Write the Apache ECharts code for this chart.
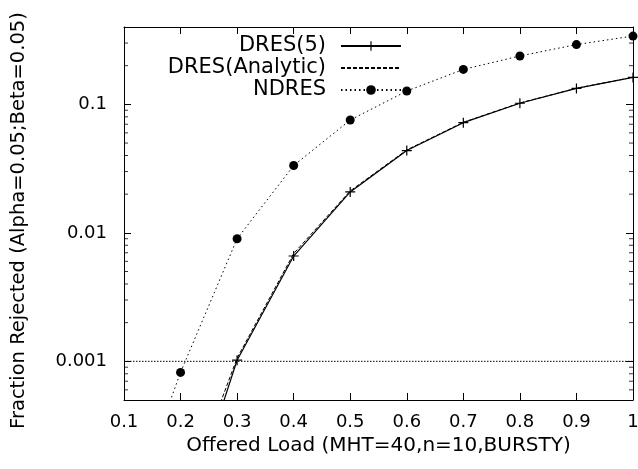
<!DOCTYPE html>
<html>
<head>
<meta charset="utf-8">
<script src="https://cdn.jsdelivr.net/npm/echarts@6/dist/echarts.min.js"></script>
<style>html,body{margin:0;padding:0;background:#fff}#c{width:638px;height:469px}</style>
</head>
<body>
<div id="c"></div>
<script>
// ---- data ----
const loads = [0.1, 0.2, 0.3, 0.4, 0.5, 0.6, 0.7, 0.8, 0.9, 1.0];
const dres5 = [null, 0.000046, 0.00102, 0.0066, 0.0208, 0.0437, 0.072, 0.102, 0.133, 0.162];
const dresAnalytic = [null, 0.00007, 0.00106, 0.0069, 0.0212, 0.0442, 0.0725, 0.1025, 0.1335, 0.1625];
const ndres = [0.00005, 0.00082, 0.0090, 0.0334, 0.0755, 0.127, 0.187, 0.238, 0.292, 0.340];
const thresholdValue = 0.001;
const yMajorTicks = [0.001, 0.01, 0.1];
const yMinorTicks = [0.0006, 0.0007, 0.0008, 0.0009,
  0.002, 0.003, 0.004, 0.005, 0.006, 0.007, 0.008, 0.009,
  0.02, 0.03, 0.04, 0.05, 0.06, 0.07, 0.08, 0.09,
  0.2, 0.3];
const xRange = [0.1, 1];
const yRange = [0.0005, 0.4];

const pair = (xs, ys) => xs.map((x, i) => [x, ys[i]]);
const FONT = 'DejaVu Sans';
const plus = 'path://M8.8,0 H11.2 V8.8 H20 V11.2 H11.2 V20 H8.8 V11.2 H0 V8.8 H8.8 Z';

const chart = echarts.init(document.getElementById('c'), null, {renderer: 'canvas'});
const axisLineStyle = {color: '#000', width: 1};
const minorTickSeries = (xVal, dir) => ({
  type: 'scatter', silent: true, clip: false, z: 10,
  data: yMinorTicks.map(v => [xVal, v]),
  symbol: 'rect', symbolSize: [4, 1], symbolOffset: [2 * dir, 0],
  itemStyle: {color: '#000'}
});
const tickStyle = {show: true, inside: true, length: 7, lineStyle: {color: '#000', width: 1}};
chart.setOption({
  animation: false,
  backgroundColor: '#fff',
  textStyle: {fontFamily: FONT, color: '#000'},
  grid: {left: 124, right: 5, top: 27, bottom: 69, containLabel: false, outerBoundsMode: 'none'},
  legend: {
    orient: 'vertical', align: 'right', right: 231, top: 30,
    itemWidth: 60, itemHeight: 12, itemGap: 0,
    textStyle: {fontFamily: FONT, fontSize: 21, color: '#000', lineHeight: 22, padding: [0, 10, 0, 0]},
    data: [
      {name: 'DRES(5)'},
      {name: 'DRES(Analytic)', itemStyle: {opacity: 0}},
      {name: 'NDRES'}
    ]
  },
  xAxis: [{
    type: 'value', min: xRange[0], max: xRange[1], interval: 0.1,
    name: 'Offered Load (MHT=40,n=10,BURSTY)', nameLocation: 'middle', nameGap: 27,
    nameTextStyle: {fontFamily: FONT, fontSize: 20, color: '#000'},
    axisLine: {show: true, onZero: false, lineStyle: axisLineStyle},
    axisTick: tickStyle,
    axisLabel: {fontFamily: FONT, fontSize: 18, color: '#000', margin: 13,
      formatter: v => String(parseFloat(v.toFixed(1)))},
    splitLine: {show: false}
  }, {
    type: 'value', position: 'top', min: xRange[0], max: xRange[1], interval: 0.1,
    axisLine: {show: true, onZero: false, lineStyle: axisLineStyle},
    axisTick: tickStyle,
    axisLabel: {show: false}, splitLine: {show: false}
  }],
  yAxis: [{
    type: 'log', logBase: 10, min: yRange[0], max: yRange[1],
    name: 'Fraction Rejected (Alpha=0.05;Beta=0.05)', nameLocation: 'middle', nameGap: 95,
    nameTextStyle: {fontFamily: FONT, fontSize: 19.5, color: '#000', padding: [0, 14, 0, 0]},
    axisLine: {show: true, onZero: false, lineStyle: axisLineStyle},
    axisTick: tickStyle,
    axisLabel: {fontFamily: FONT, fontSize: 18, color: '#000', margin: 17,
      showMinLabel: false, showMaxLabel: false,
      formatter: v => {
        const r = parseFloat(v.toPrecision(2));
        return yMajorTicks.includes(r) ? String(r) : '';
      }},
    splitLine: {show: false}
  }, {
    type: 'log', logBase: 10, position: 'right', min: yRange[0], max: yRange[1],
    axisLine: {show: true, onZero: false, lineStyle: axisLineStyle},
    axisTick: tickStyle,
    axisLabel: {show: false}, splitLine: {show: false}
  }],
  series: [
    {
      name: 'threshold', type: 'line', silent: true,
      data: [[xRange[0], thresholdValue], [xRange[1], thresholdValue]],
      symbol: 'none', showSymbol: false,
      lineStyle: {color: '#000', width: 1, type: [1.5, 1.5]}, z: 1
    },
    {
      name: 'DRES(Analytic)', type: 'line', data: pair(loads, dresAnalytic),
      showSymbol: false, symbol: 'none', clip: true,
      lineStyle: {color: '#000', width: 1, type: [4, 2]},
      itemStyle: {color: '#000'}, z: 2
    },
    {
      name: 'DRES(5)', type: 'line', data: pair(loads, dres5),
      symbol: plus, symbolSize: 10, clip: true,
      lineStyle: {color: '#000', width: 1.2, type: 'solid'},
      itemStyle: {color: '#000'}, z: 3
    },
    {
      name: 'NDRES', type: 'line', data: pair(loads, ndres),
      symbol: 'circle', symbolSize: 9, clip: true,
      lineStyle: {color: '#000', width: 1, type: [1.5, 3]},
      itemStyle: {color: '#000'}, z: 3
    },
    minorTickSeries(xRange[0], 1),
    minorTickSeries(xRange[1], -1)
  ]
});
</script>
</body>
</html>
